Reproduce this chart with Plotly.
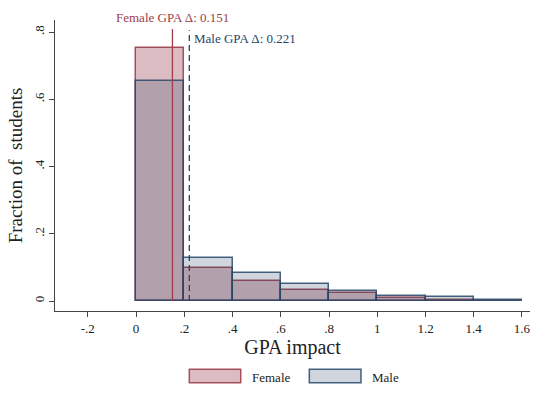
import plotly.graph_objects as go

# Histogram of GPA impact by gender (fraction of students per 0.2-wide bin)
bin_left = [0.0, 0.2, 0.4, 0.6, 0.8, 1.0, 1.2, 1.4]
bin_width = 0.2
female_frac = [0.752, 0.099, 0.060, 0.034, 0.023, 0.008, 0.003, 0.001]
male_frac = [0.654, 0.127, 0.084, 0.050, 0.030, 0.016, 0.011, 0.004]

female_delta = 0.151
male_delta = 0.221

x_ticks = [-0.2, 0, 0.2, 0.4, 0.6, 0.8, 1.0, 1.2, 1.4, 1.6]
x_tick_text = ["-.2", "0", ".2", ".4", ".6", ".8", "1", "1.2", "1.4", "1.6"]
y_ticks = [0, 0.2, 0.4, 0.6, 0.8]
y_tick_text = ["0", ".2", ".4", ".6", ".8"]

FONT = "Liberation Serif"
F_FILL = "rgba(135,32,52,0.30)"
F_LINE = "rgba(150,55,70,0.85)"
M_FILL = "rgba(15,50,90,0.20)"
M_LINE = "rgba(40,70,105,0.85)"
F_VLINE = "#a03c4c"
M_VLINE = "#25456a"

centers = [b + bin_width / 2 for b in bin_left]

fig = go.Figure()
fig.add_trace(go.Bar(x=centers, y=female_frac, width=bin_width, name="Female",
                     marker=dict(color=F_FILL, line=dict(color=F_LINE, width=1.5)),
                     showlegend=False))
fig.add_trace(go.Bar(x=centers, y=male_frac, width=bin_width, name="Male",
                     marker=dict(color=M_FILL, line=dict(color=M_LINE, width=1.5)),
                     showlegend=False))

# mean-impact reference lines
fig.add_trace(go.Scatter(x=[female_delta, female_delta], y=[0, 0.809], mode="lines",
                         line=dict(color=F_VLINE, width=1.3), showlegend=False,
                         hoverinfo="skip"))
fig.add_trace(go.Scatter(x=[male_delta, male_delta], y=[0, 0.805], mode="lines",
                         line=dict(color=M_VLINE, width=1.3, dash="6px,4px"),
                         showlegend=False, hoverinfo="skip"))

# line labels (paper y so the top label can sit above the plot area)
fig.add_annotation(x=female_delta, y=1.01, xref="x", yref="paper",
                   text=f"Female GPA Δ: {female_delta:.3f}", showarrow=False,
                   xanchor="center", yanchor="middle",
                   font=dict(family=FONT, size=13, color=F_VLINE))
fig.add_annotation(x=male_delta, y=0.937, xref="x", yref="paper", xshift=3,
                   text=f"Male GPA Δ: {male_delta:.3f}", showarrow=False,
                   xanchor="left", yanchor="middle",
                   font=dict(family=FONT, size=13, color=M_VLINE))

# legend drawn below the axis
legend_items = [("Female", F_FILL, F_LINE, 0.2827, 0.391, 0.4105),
                ("Male", M_FILL, M_LINE, 0.5354, 0.6442, 0.6632)]
for label, fill, line, x0, x1, tx in legend_items:
    fig.add_shape(type="rect", xref="paper", yref="paper", x0=x0, x1=x1,
                  y0=-0.2464, y1=-0.2003, fillcolor=fill,
                  line=dict(color=line, width=1.5))
    fig.add_annotation(x=tx, y=-0.2292, xref="paper", yref="paper", text=label,
                       showarrow=False, xanchor="left", yanchor="middle",
                       font=dict(family=FONT, size=13, color="#222"))

fig.update_layout(
    width=543, height=404,
    margin=dict(l=55, r=13, t=20, b=93),
    paper_bgcolor="white", plot_bgcolor="white",
    barmode="overlay", bargap=0,
    font=dict(family=FONT, size=13, color="#222"),
    xaxis=dict(range=[-0.3358, 1.6332], tickvals=x_ticks, ticktext=x_tick_text,
               showgrid=False, zeroline=False, showline=True, linecolor="#444",
               linewidth=1, ticks="outside", ticklen=5, tickcolor="#444",
               tickfont=dict(family=FONT, size=13, color="#222"),
               title=dict(text="GPA impact", standoff=3,
                          font=dict(family=FONT, size=20, color="#222"))),
    yaxis=dict(range=[-0.0297, 0.8357], tickvals=y_ticks, ticktext=y_tick_text,
               showgrid=False, zeroline=False, showline=True, linecolor="#444",
               linewidth=1, ticks="outside", ticklen=5, tickcolor="#444",
               tickangle=-90,
               tickfont=dict(family=FONT, size=13, color="#222"),
               title=dict(text="Fraction of  students", standoff=4,
                          font=dict(family=FONT, size=19, color="#222"))),
)

fig.write_html("out.html")
